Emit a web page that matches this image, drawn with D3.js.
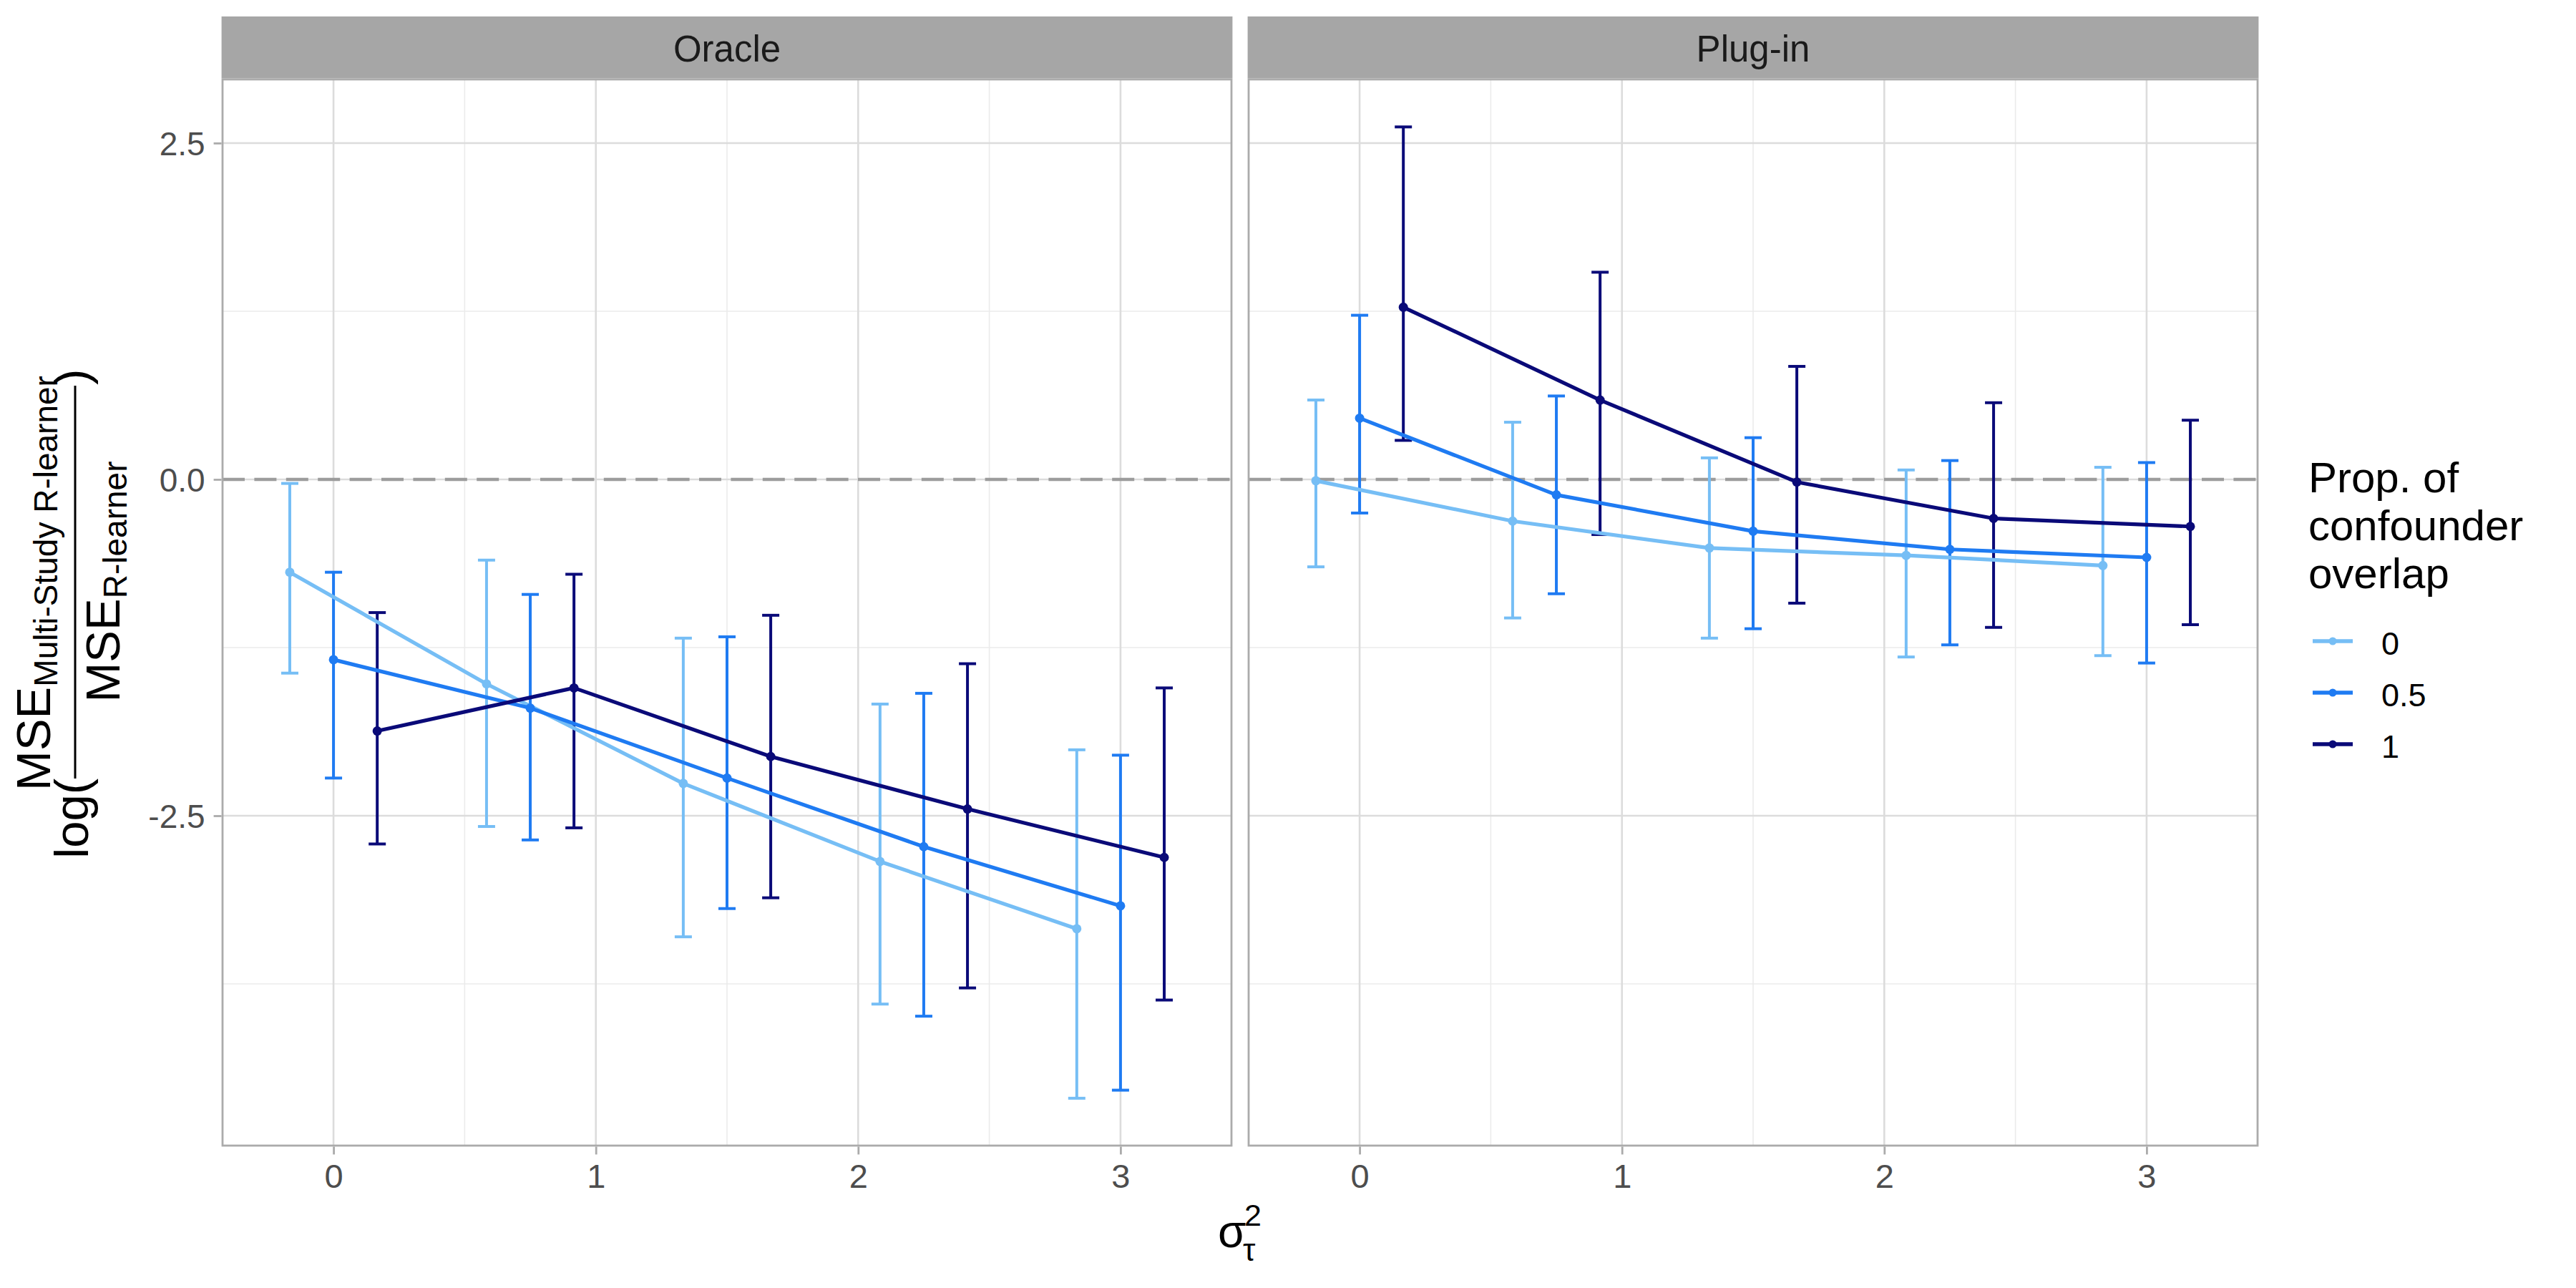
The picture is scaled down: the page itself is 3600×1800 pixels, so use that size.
<!DOCTYPE html>
<html>
<head>
<meta charset="utf-8">
<script src="https://cdn.jsdelivr.net/npm/d3@7"></script>
<style>
  body { margin: 0; background: #fff; }
  text { font-family: "Liberation Sans", Arial, Helvetica, sans-serif; }
</style>
</head>
<body>
<div id="container"></div>
<script>
// ==================== data ==================== //

const panels = ["Oracle", "Plug-in"];
const groups = ["0", "0.5", "1"];
const groupColors = ["#76BEF5", "#1F7BF2", "#0A0A78"];
const sigmaLevels = [0, 0.75, 1.5, 2.25, 3];
const dodgeOffsets = [-1 / 6, 0, 1 / 6];

// Oracle panel, one row per group (0, 0.5, 1)
const oracleMean = [
    [-0.69, -1.52, -2.26, -2.84, -3.34],
    [-1.34, -1.70, -2.22, -2.73, -3.17],
    [-1.87, -1.55, -2.06, -2.45, -2.81]
];
const oracleLow = [
    [-1.44, -2.58, -3.40, -3.90, -4.60],
    [-2.22, -2.68, -3.19, -3.99, -4.54],
    [-2.71, -2.59, -3.11, -3.78, -3.87]
];
const oracleHigh = [
    [-0.03, -0.60, -1.18, -1.67, -2.01],
    [-0.69, -0.855, -1.17, -1.59, -2.05],
    [-0.99, -0.705, -1.01, -1.37, -1.55]
];

// Plug-in panel
const plugMean = [
    [-0.01, -0.31, -0.51, -0.565, -0.64],
    [0.455, -0.115, -0.385, -0.52, -0.58],
    [1.28, 0.59, -0.02, -0.29, -0.35]
];
const plugLow = [
    [-0.65, -1.03, -1.18, -1.32, -1.31],
    [-0.25, -0.85, -1.11, -1.23, -1.365],
    [0.29, -0.41, -0.92, -1.10, -1.08]
];
const plugHigh = [
    [0.59, 0.425, 0.16, 0.07, 0.09],
    [1.22, 0.62, 0.31, 0.14, 0.125],
    [2.62, 1.54, 0.84, 0.57, 0.44]
];

const xTicks = [0, 1, 2, 3];
const xMinor = [0.5, 1.5, 2.5];
const yTicks = [-2.5, 0, 2.5];
const yMinor = [-3.75, -1.25, 1.25];

// ==================== layout ==================== //

const W = 3600, H = 1800;
const panelTop = 111, panelBottom = 1601;
const stripTop = 23;
const panelLefts = [311, 1745];
const panelWidth = 1410;

const xDomain = [-0.423, 3.423];
const yDomain = [-4.952, 2.973];

const svg = d3.select("#container")
    .append("svg")
    .attr("width", W)
    .attr("height", H)
    .attr("viewBox", `0 0 ${W} ${H}`);

svg.append("rect").attr("width", W).attr("height", H).attr("fill", "#fff");

const y = d3.scaleLinear().domain(yDomain).range([panelBottom, panelTop]);

// R prints a plain hyphen for negatives
const yFormat = d => d3.format(".1f")(d).replace("\u2212", "-");

function buildRows(mean, low, high) {
    const rows = [];
    groups.forEach((g, gi) => {
        sigmaLevels.forEach((s, si) => {
            rows.push({
                group: gi,
                x: s + dodgeOffsets[gi],
                mean: mean[gi][si],
                low: low[gi][si],
                high: high[gi][si]
            });
        });
    });
    return rows;
}

const panelData = [
    buildRows(oracleMean, oracleLow, oracleHigh),
    buildRows(plugMean, plugLow, plugHigh)
];

panels.forEach((name, pi) => {
    const left = panelLefts[pi];
    const x = d3.scaleLinear().domain(xDomain).range([left, left + panelWidth]);
    const g = svg.append("g");

    // grid
    g.selectAll(".xminor").data(xMinor).join("line")
        .attr("x1", d => x(d)).attr("x2", d => x(d))
        .attr("y1", panelTop).attr("y2", panelBottom)
        .attr("stroke", "#EBEBEB").attr("stroke-width", 1.6);
    g.selectAll(".yminor").data(yMinor).join("line")
        .attr("x1", left).attr("x2", left + panelWidth)
        .attr("y1", d => y(d)).attr("y2", d => y(d))
        .attr("stroke", "#EBEBEB").attr("stroke-width", 1.6);
    g.selectAll(".xmajor").data(xTicks).join("line")
        .attr("x1", d => x(d)).attr("x2", d => x(d))
        .attr("y1", panelTop).attr("y2", panelBottom)
        .attr("stroke", "#DCDCDC").attr("stroke-width", 2.6);
    g.selectAll(".ymajor").data(yTicks).join("line")
        .attr("x1", left).attr("x2", left + panelWidth)
        .attr("y1", d => y(d)).attr("y2", d => y(d))
        .attr("stroke", "#DCDCDC").attr("stroke-width", 2.6);

    // reference line at 0
    g.append("line")
        .attr("x1", left).attr("x2", left + panelWidth)
        .attr("y1", y(0)).attr("y2", y(0))
        .attr("stroke", "#9C9C9C").attr("stroke-width", 4.5)
        .attr("stroke-dasharray", "31 13.4");

    const rows = panelData[pi];
    const capHalf = 12;

    // error bars
    const eb = g.selectAll(".eb").data(rows).join("g")
        .attr("stroke", d => groupColors[d.group])
        .attr("stroke-width", 4);
    eb.append("line")
        .attr("x1", d => x(d.x)).attr("x2", d => x(d.x))
        .attr("y1", d => y(d.low)).attr("y2", d => y(d.high));
    eb.append("line")
        .attr("x1", d => x(d.x) - capHalf).attr("x2", d => x(d.x) + capHalf)
        .attr("y1", d => y(d.low)).attr("y2", d => y(d.low));
    eb.append("line")
        .attr("x1", d => x(d.x) - capHalf).attr("x2", d => x(d.x) + capHalf)
        .attr("y1", d => y(d.high)).attr("y2", d => y(d.high));

    // lines
    const line = d3.line().x(d => x(d.x)).y(d => y(d.mean));
    groups.forEach((grp, gi) => {
        g.append("path")
            .datum(rows.filter(r => r.group === gi))
            .attr("d", line)
            .attr("fill", "none")
            .attr("stroke", groupColors[gi])
            .attr("stroke-width", 5.2)
            .attr("stroke-linejoin", "round");
    });

    // points
    g.selectAll(".pt").data(rows).join("circle")
        .attr("cx", d => x(d.x)).attr("cy", d => y(d.mean))
        .attr("r", 6.5)
        .attr("fill", d => groupColors[d.group]);

    // panel border
    g.append("rect")
        .attr("x", left).attr("y", panelTop)
        .attr("width", panelWidth).attr("height", panelBottom - panelTop)
        .attr("fill", "none").attr("stroke", "#ABABAB").attr("stroke-width", 2.8);

    // strip
    g.append("rect")
        .attr("x", left - 1.4).attr("y", stripTop)
        .attr("width", panelWidth + 2.8).attr("height", panelTop - stripTop - 1.4)
        .attr("fill", "#A6A6A6");
    g.append("text")
        .attr("x", left + panelWidth / 2).attr("y", 86)
        .attr("text-anchor", "middle")
        .attr("font-size", 51)
        .attr("fill", "#1A1A1A")
        .text(name);

    // x axis
    const xAxis = g.append("g")
        .attr("transform", `translate(0,${panelBottom + 1.4})`)
        .call(d3.axisBottom(x).tickValues(xTicks).tickSize(11).tickPadding(13).tickFormat(d3.format("d")));
    xAxis.select(".domain").remove();
    xAxis.selectAll(".tick line").attr("stroke", "#ABABAB").attr("stroke-width", 2.8);
    xAxis.selectAll(".tick text")
        .attr("font-size", 47).attr("fill", "#4D4D4D")
        .attr("font-family", "Liberation Sans, Arial, sans-serif");

    if (pi === 0) {
        const yAxis = g.append("g")
            .attr("transform", `translate(${left - 1.4},0)`)
            .call(d3.axisLeft(y).tickValues(yTicks).tickSize(11).tickPadding(12).tickFormat(yFormat));
        yAxis.select(".domain").remove();
        yAxis.selectAll(".tick line").attr("stroke", "#ABABAB").attr("stroke-width", 2.8);
        yAxis.selectAll(".tick text")
            .attr("font-size", 46).attr("fill", "#4D4D4D")
            .attr("dy", "0.36em")
            .attr("font-family", "Liberation Sans, Arial, sans-serif");
    }
});

// ==================== axis titles ==================== //

// x title: sigma_tau^2
const xt = svg.append("g");
xt.append("text")
    .attr("x", 1702).attr("y", 1743)
    .attr("font-size", 64)
    .attr("font-family", "Liberation Serif, DejaVu Serif, serif")
    .text("σ");
xt.append("text")
    .attr("x", 1739).attr("y", 1713)
    .attr("font-size", 43)
    .text("2");
xt.append("text")
    .attr("x", 1737).attr("y", 1762)
    .attr("font-size", 44)
    .attr("font-family", "Liberation Serif, DejaVu Serif, serif")
    .text("τ");

// y title: log(MSE_multi / MSE_R)
const yt = svg.append("g").attr("transform", "translate(105,813) rotate(-90)");
yt.append("line")
    .attr("x1", -275).attr("x2", 274)
    .attr("y1", 0).attr("y2", 0)
    .attr("stroke", "#000").attr("stroke-width", 3);
const num = yt.append("text")
    .attr("x", -2).attr("y", -35)
    .attr("text-anchor", "middle");
num.append("tspan").attr("font-size", 67).text("MSE");
num.append("tspan").attr("font-size", 46).attr("dy", 10).text("Multi-Study R-learner");
const den = yt.append("text")
    .attr("x", 0).attr("y", 62)
    .attr("text-anchor", "middle");
den.append("tspan").attr("font-size", 67).text("MSE");
den.append("tspan").attr("font-size", 46).attr("dy", 10).text("R-learner");
yt.append("text")
    .attr("x", -275).attr("y", 18)
    .attr("text-anchor", "end")
    .attr("font-size", 67)
    .text("log(");
yt.append("text")
    .attr("x", 275).attr("y", 18)
    .attr("font-size", 67)
    .text(")");

// ==================== legend ==================== //

const legend = svg.append("g");
["Prop. of", "confounder", "overlap"].forEach((t, i) => {
    legend.append("text")
        .attr("x", 3226).attr("y", 688 + i * 67)
        .attr("font-size", 60)
        .attr("fill", "#000")
        .text(t);
});
const legendY = d3.scalePoint().domain(groups).range([896, 1040]);
const items = legend.selectAll(".item").data(groups).join("g")
    .attr("transform", d => `translate(0,${legendY(d)})`);
items.append("line")
    .attr("x1", 3232).attr("x2", 3288)
    .attr("stroke", (d, i) => groupColors[i])
    .attr("stroke-width", 5.5);
items.append("circle")
    .attr("cx", 3260).attr("r", 5.5)
    .attr("fill", (d, i) => groupColors[i]);
items.append("text")
    .attr("x", 3328).attr("y", 19)
    .attr("font-size", 45)
    .text(d => d);
</script>
</body>
</html>
